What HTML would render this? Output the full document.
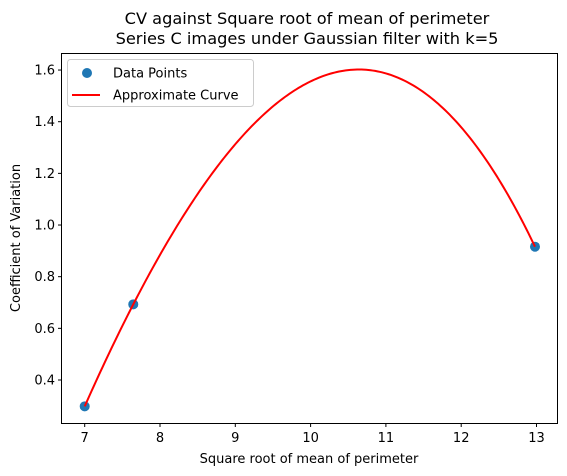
<!DOCTYPE html>
<html><head><meta charset="utf-8"><style>
body{margin:0;background:#fff;}
svg{display:block;font-family:"DejaVu Sans","Liberation Sans",sans-serif;}
</style></head><body>
<svg id="chart" width="567" height="476">
<text x="307" y="24" font-size="16.2" text-anchor="middle">CV against Square root of mean of perimeter</text>
<text x="307" y="44" font-size="16.2" text-anchor="middle">Series C images under Gaussian filter with k=5</text>
<rect x="61.5" y="53.5" width="496" height="370" fill="none" stroke="#000" stroke-width="1"/>
<g id="xticks"></g>
<g id="yticks"></g>
<text x="309" y="463" font-size="13" text-anchor="middle">Square root of mean of perimeter</text>
<text x="20" y="238" font-size="13" text-anchor="middle" transform="rotate(-90 20 238)">Coefficient of Variation</text>
<g id="series"></g>
<g>
<rect x="67.5" y="59.5" width="186" height="47" rx="3" fill="#fff" fill-opacity="0.8" stroke="#ccc"/>
<circle cx="87" cy="73" r="5" fill="#1f77b4"/>
<text x="113" y="77.5" font-size="13">Data Points</text>
<line x1="72" y1="95" x2="100" y2="95" stroke="red" stroke-width="2"/>
<text x="113" y="99.5" font-size="13">Approximate Curve</text>
</g>
</svg>
<script>
const pointsX=[7,7.645,12.98];
const pointsY=[0.298,0.693,0.916];
const curveKnotsX=[7,7.645,10.65,12.98];
const curveKnotsY=[0.298,0.693,1.602,0.916];
const xTicks=[7,8,9,10,11,12,13];
const yTicks=[0.4,0.6,0.8,1.0,1.2,1.4,1.6];
const yTickLabels=["0.4","0.6","0.8","1.0","1.2","1.4","1.6"];
const NS="http://www.w3.org/2000/svg";
const sx=v=>84.7+(v-7)*75.3;
const sy=v=>380-(v-0.4)*258.3;
function mk(t,a,p){const e=document.createElementNS(NS,t);for(const k in a)e.setAttribute(k,a[k]);p.appendChild(e);return e;}
const xg=document.getElementById('xticks'),yg=document.getElementById('yticks'),sg=document.getElementById('series');
xTicks.forEach(v=>{
 const l=mk('line',{x1:sx(v),x2:sx(v),y1:423.5,y2:427,stroke:'#000'},xg);
 
 
 const t=mk('text',{x:sx(v),y:442,'font-size':13,'text-anchor':'middle'},xg);t.textContent=v;
 
 
});
yTicks.forEach((v,i)=>{
 const l=mk('line',{x1:58,x2:61.5,y1:sy(v),y2:sy(v),stroke:'#000'},yg);
 
 
 const t=mk('text',{x:55,y:sy(v)+4.5,'font-size':13,'text-anchor':'end'},yg);t.textContent=yTickLabels[i];
 
 
});
function lag(x){let s=0;for(let i=0;i<curveKnotsX.length;i++){let p=curveKnotsY[i];for(let j=0;j<curveKnotsX.length;j++)if(j!==i)p*=(x-curveKnotsX[j])/(curveKnotsX[i]-curveKnotsX[j]);s+=p;}return s;}
pointsX.forEach((x,i)=>{
 const c=mk('circle',{cx:sx(x),cy:sy(pointsY[i]),r:5,fill:'#1f77b4'},sg);
 
 
});
const x0=curveKnotsX[0],x1=curveKnotsX[curveKnotsX.length-1];let d='';
for(let k=0;k<=200;k++){const x=x0+(x1-x0)*k/200;d+=(k?'L':'M')+sx(x).toFixed(2)+','+sy(lag(x)).toFixed(2);}
const pth=mk('path',{d:d,fill:'none',stroke:'red','stroke-width':2},sg);


</script>
</body></html>
